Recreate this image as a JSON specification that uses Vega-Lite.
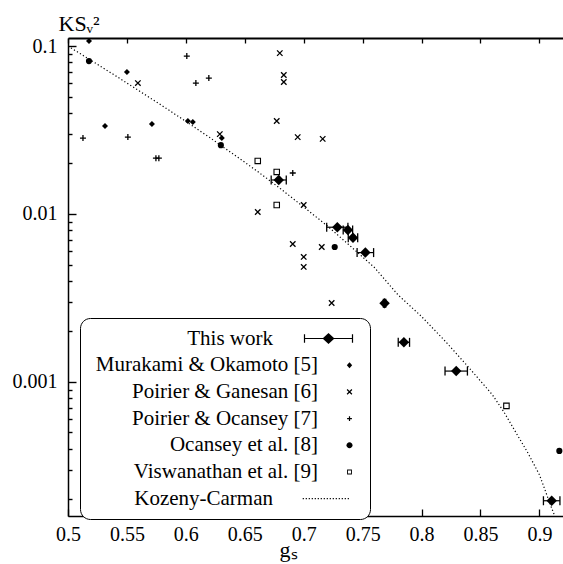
{
  "$schema": "https://vega.github.io/schema/vega-lite/v6.json",
  "width": 495,
  "height": 478,
  "autosize": "none",
  "padding": {"left": 68, "top": 38, "right": 0, "bottom": 48},
  "background": "white",
  "config": {
    "view": {"stroke": null},
    "font": "Liberation Serif",
    "axis": {"grid": false, "labelFont": "Liberation Serif", "labelFontSize": 20, "labelColor": "black", "domainColor": "black", "tickColor": "black", "titleFont": "Liberation Serif", "titleColor": "black", "titleFontWeight": "normal", "domainWidth": 1.5, "tickWidth": 1.3}
  },
  "datasets": {
    "kc": [
      {"g": 0.50, "v": 0.1}, {"g": 0.52, "v": 0.0818}, {"g": 0.54, "v": 0.0668}, {"g": 0.56, "v": 0.0543},
      {"g": 0.58, "v": 0.0441}, {"g": 0.60, "v": 0.0356}, {"g": 0.62, "v": 0.0286}, {"g": 0.64, "v": 0.0228},
      {"g": 0.66, "v": 0.0181}, {"g": 0.68, "v": 0.0142}, {"g": 0.70, "v": 0.0110}, {"g": 0.72, "v": 0.0085},
      {"g": 0.74, "v": 0.0064}, {"g": 0.76, "v": 0.0048}, {"g": 0.78, "v": 0.0033}, {"g": 0.80, "v": 0.00245},
      {"g": 0.82, "v": 0.00175}, {"g": 0.84, "v": 0.00122}, {"g": 0.86, "v": 0.00084}, {"g": 0.87, "v": 0.00066},
      {"g": 0.88, "v": 0.00050}, {"g": 0.89, "v": 0.00038}, {"g": 0.90, "v": 0.00028}, {"g": 0.91, "v": 0.00018},
      {"g": 0.913, "v": 0.000159}
    ],
    "work": [
      {"g": 0.6788, "v": 0.01594, "lo": 0.6724, "hi": 0.6852},
      {"g": 0.7285, "v": 0.00834, "lo": 0.7195, "hi": 0.7375},
      {"g": 0.7375, "v": 0.00803, "lo": 0.7335, "hi": 0.7415},
      {"g": 0.7418, "v": 0.00723, "lo": 0.7378, "hi": 0.7458},
      {"g": 0.7523, "v": 0.00589, "lo": 0.7453, "hi": 0.7593},
      {"g": 0.7686, "v": 0.00294, "lo": 0.7676, "hi": 0.7696},
      {"g": 0.7850, "v": 0.00172, "lo": 0.7802, "hi": 0.7898},
      {"g": 0.8294, "v": 0.00116, "lo": 0.8199, "hi": 0.8389},
      {"g": 0.9104, "v": 0.000196, "lo": 0.9034, "hi": 0.9174}
    ],
    "mo": [
      {"g": 0.5178, "v": 0.1071}, {"g": 0.55, "v": 0.070}, {"g": 0.5314, "v": 0.0334}, {"g": 0.5712, "v": 0.0343},
      {"g": 0.6017, "v": 0.0358}, {"g": 0.6059, "v": 0.0353}, {"g": 0.6305, "v": 0.0283}
    ],
    "pg": [
      {"g": 0.5593, "v": 0.0602}, {"g": 0.6797, "v": 0.0908}, {"g": 0.6831, "v": 0.0672}, {"g": 0.6831, "v": 0.0611},
      {"g": 0.6771, "v": 0.0358}, {"g": 0.6949, "v": 0.0287}, {"g": 0.7161, "v": 0.0280}, {"g": 0.6288, "v": 0.0299},
      {"g": 0.661, "v": 0.01028}, {"g": 0.70, "v": 0.01131}, {"g": 0.6907, "v": 0.00663}, {"g": 0.7153, "v": 0.00636},
      {"g": 0.70, "v": 0.00555}, {"g": 0.70, "v": 0.00484}, {"g": 0.7237, "v": 0.00295}
    ],
    "po": [
      {"g": 0.5127, "v": 0.0283}, {"g": 0.5508, "v": 0.0287}, {"g": 0.6008, "v": 0.0872}, {"g": 0.6085, "v": 0.0602},
      {"g": 0.6195, "v": 0.0645}, {"g": 0.5746, "v": 0.0215}, {"g": 0.5771, "v": 0.0215}, {"g": 0.6907, "v": 0.01754}
    ],
    "oc": [
      {"g": 0.5178, "v": 0.0814}, {"g": 0.6297, "v": 0.0257}, {"g": 0.7263, "v": 0.00636}, {"g": 0.9169, "v": 0.000388}
    ],
    "vi": [
      {"g": 0.661, "v": 0.0207}, {"g": 0.6771, "v": 0.0178}, {"g": 0.6771, "v": 0.01131}, {"g": 0.872, "v": 0.00072}
    ]
  },
  "resolve": {"axis": {"x": "independent", "y": "independent"}},
  "layer": [
    {
      "data": {"name": "kc"},
      "mark": {"type": "line", "color": "black", "strokeWidth": 1.2, "strokeDash": [1.2, 2.3], "clip": true},
      "encoding": {
        "x": {"field": "g", "type": "quantitative", "scale": {"domain": [0.5, 0.92], "nice": false, "zero": false},
          "axis": {"orient": "bottom", "values": [0.5, 0.55, 0.6, 0.65, 0.7, 0.75, 0.8, 0.85, 0.9], "format": "~g", "tickSize": -7, "labelPadding": 15, "labelFlush": false, "labelOverlap": false,
            "title": "gₛ", "titleFontSize": 22, "titleX": 220, "titleY": 40, "titleAlign": "center", "titleBaseline": "alphabetic"}},
        "y": {"field": "v", "type": "quantitative", "scale": {"type": "log", "domain": [0.000159, 0.1117], "nice": false},
          "axis": {"orient": "left",
            "values": [0.1, 0.01, 0.001, 0.0002, 0.0003, 0.0004, 0.0005, 0.0006, 0.0007, 0.0008, 0.0009, 0.002, 0.003, 0.004, 0.005, 0.006, 0.007, 0.008, 0.009, 0.02, 0.03, 0.04, 0.05, 0.06, 0.07, 0.08, 0.09],
            "tickCount": 100,
            "format": "~g",
            "labelExpr": "datum.value == 0.1 || datum.value == 0.01 || datum.value == 0.001 ? datum.label : ''",
            "tickSize": {"condition": {"test": "datum.value == 0.1 || datum.value == 0.01 || datum.value == 0.001", "value": -8}, "value": -4},
            "tickWidth": 1.4,
            "labelPadding": 19, "labelOverlap": false,
            "title": "KSᵥ²", "titleFontSize": 22, "titleAngle": 0, "titleX": -10, "titleY": -8, "titleAlign": "left", "titleBaseline": "alphabetic"}}
      }
    },
    {
      "data": {"name": "pg"},
      "mark": {"type": "point", "shape": "M-1,-1L1,1M-1,1L1,-1", "size": 30, "filled": false, "color": "black", "strokeWidth": 1.3, "opacity": 1},
      "encoding": {
        "x": {"field": "g", "type": "quantitative", "axis": {"orient": "top", "values": [0.5, 0.55, 0.6, 0.65, 0.7, 0.75, 0.8, 0.85, 0.9], "labels": false, "tickSize": -5, "domainWidth": 2, "title": null}},
        "y": {"field": "v", "type": "quantitative", "axis": null}
      }
    },
    {
      "data": {"name": "mo"},
      "mark": {"type": "point", "shape": "diamond", "size": 36, "filled": true, "color": "black", "opacity": 1},
      "encoding": {
        "x": {"field": "g", "type": "quantitative", "axis": null},
        "y": {"field": "v", "type": "quantitative", "axis": null}
      }
    },
    {
      "data": {"name": "po"},
      "mark": {"type": "point", "shape": "M-1,0H1M0,-1V1", "size": 36, "filled": false, "color": "black", "strokeWidth": 1.3, "opacity": 1},
      "encoding": {
        "x": {"field": "g", "type": "quantitative", "axis": null},
        "y": {"field": "v", "type": "quantitative", "axis": null}
      }
    },
    {
      "data": {"name": "oc"},
      "mark": {"type": "point", "shape": "circle", "size": 38, "filled": true, "color": "black", "opacity": 1},
      "encoding": {
        "x": {"field": "g", "type": "quantitative", "axis": null},
        "y": {"field": "v", "type": "quantitative", "axis": null}
      }
    },
    {
      "data": {"name": "vi"},
      "mark": {"type": "point", "shape": "square", "size": 30, "filled": false, "color": "black", "strokeWidth": 1.1, "opacity": 1},
      "encoding": {
        "x": {"field": "g", "type": "quantitative", "axis": null},
        "y": {"field": "v", "type": "quantitative", "axis": null}
      }
    },
    {
      "data": {"name": "work"},
      "mark": {"type": "rule", "color": "black", "strokeWidth": 1.2},
      "encoding": {
        "x": {"field": "lo", "type": "quantitative", "axis": null},
        "x2": {"field": "hi"},
        "y": {"field": "v", "type": "quantitative", "axis": null}
      }
    },
    {
      "data": {"name": "work"},
      "mark": {"type": "tick", "orient": "vertical", "size": 9, "thickness": 1.3, "color": "black", "opacity": 1},
      "encoding": {
        "x": {"field": "lo", "type": "quantitative", "axis": null},
        "y": {"field": "v", "type": "quantitative", "axis": null}
      }
    },
    {
      "data": {"name": "work"},
      "mark": {"type": "tick", "orient": "vertical", "size": 9, "thickness": 1.3, "color": "black", "opacity": 1},
      "encoding": {
        "x": {"field": "hi", "type": "quantitative", "axis": null},
        "y": {"field": "v", "type": "quantitative", "axis": null}
      }
    },
    {
      "data": {"name": "work"},
      "mark": {"type": "point", "shape": "diamond", "size": 110, "filled": true, "color": "black", "opacity": 1},
      "encoding": {
        "x": {"field": "g", "type": "quantitative", "axis": null},
        "y": {"field": "v", "type": "quantitative", "axis": null}
      }
    },
    {
      "data": {"values": []},
      "mark": {"type": "point", "filled": true, "color": "black", "opacity": 1},
      "encoding": {
        "shape": {
          "field": "series", "type": "nominal",
          "scale": {
            "domain": ["This work\u2800\u2800\u2800", "Murakami & Okamoto [5]", "Poirier & Ganesan [6]", "Poirier & Ocansey [7]", "Ocansey et al. [8]", "Viswanathan et al. [9]", "Kozeny-Carman\u2800\u2800\u2800"],
            "range": [
              "M4.6,0M-4,-0.1H4V0.1H-4ZM-4.1,-0.7H-3.9V0.7H-4.1ZM3.9,-0.7H4.1V0.7H3.9ZM0,-0.9L1,0L0,0.9L-1,0Z",
              "M4.6,0M3.5,-0.5L3.95,0L3.5,0.5L3.05,0Z",
              "M4.6,0M3.171,-0.471L3.971,0.329L3.829,0.471L3.029,-0.329ZM3.029,0.329L3.829,-0.471L3.971,-0.329L3.171,0.471Z",
              "M4.6,0M3.1,-0.1H3.9V0.1H3.1ZM3.4,-0.4H3.6V0.4H3.4Z",
              "M4.6,0M4,0A0.5,0.5,0,1,1,3,0A0.5,0.5,0,1,1,4,0Z",
              "M4.6,0M3.1,-0.4H3.9V0.4H3.1ZM3.25,-0.25V0.25H3.75V-0.25Z",
              "M4.6,0M-4.3,-0.1h0.2v0.2h-0.2ZM-3.8,-0.1h0.2v0.2h-0.2ZM-3.3,-0.1h0.2v0.2h-0.2ZM-2.8,-0.1h0.2v0.2h-0.2ZM-2.3,-0.1h0.2v0.2h-0.2ZM-1.8,-0.1h0.2v0.2h-0.2ZM-1.3,-0.1h0.2v0.2h-0.2ZM-0.8,-0.1h0.2v0.2h-0.2ZM-0.3,-0.1h0.2v0.2h-0.2ZM0.2,-0.1h0.2v0.2h-0.2ZM0.7,-0.1h0.2v0.2h-0.2ZM1.2,-0.1h0.2v0.2h-0.2ZM1.7,-0.1h0.2v0.2h-0.2ZM2.2,-0.1h0.2v0.2h-0.2ZM2.7,-0.1h0.2v0.2h-0.2ZM3.2,-0.1h0.2v0.2h-0.2Z"
            ]
          },
          "legend": {
            "orient": "none", "legendX": 12, "legendY": 280, "direction": "vertical", "title": null,
            "labelFont": "Liberation Serif", "labelFontSize": 21, "labelColor": "black", "labelAlign": "right", "labelBaseline": "middle",
            "labelOffset": -21, "symbolOffset": 228, "labelLimit": 400, "symbolSize": 144,
            "strokeColor": "black", "fillColor": "white", "cornerRadius": 10, "padding": 10, "rowPadding": 4.7
          }
        }
      }
    }
  ]
}
